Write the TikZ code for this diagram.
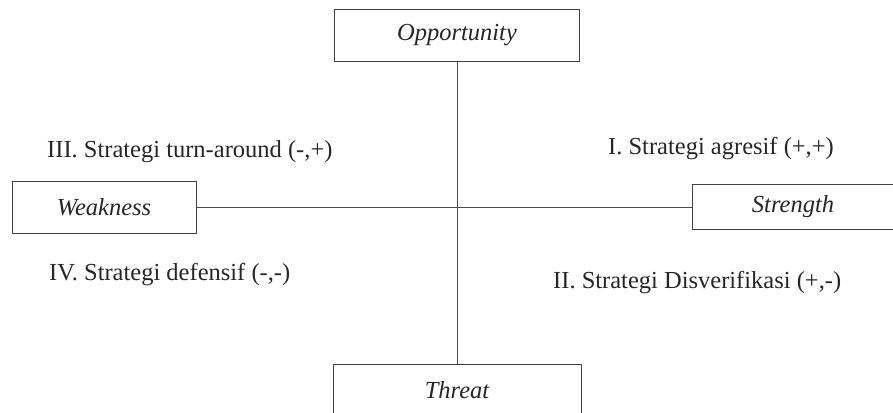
\documentclass[tikz,border=0pt]{standalone}
\usepackage{fontspec}
\setmainfont{Liberation Serif}
\tikzset{>=stealth}
\tikzset{
  swotbox/.style={draw=black!75, line width=1pt, font=\fontsize{24.5}{28}\selectfont\itshape, inner sep=0pt, text=black!85},
  axisline/.style={draw=black!70, line width=1pt},
  quadlabel/.style={anchor=base west, inner sep=0pt, text=black!85},
}

\begin{document}
\begin{tikzpicture}[x=1pt, y=-1pt, font=\fontsize{24.5}{28}\selectfont]
\useasboundingbox (0,0) rectangle (893,412);
\node[swotbox, minimum width=245pt, minimum height=51pt] (opp) at (457,35.5) {Opportunity};
\node[swotbox, minimum width=184pt, minimum height=52pt] (weak) at (104,207) {Weakness};
\node[swotbox, minimum width=202pt, minimum height=45pt] (str) at (793,207) {Strength};
\node[swotbox, minimum width=248pt, minimum height=52pt] (thr) at (457,390) {Threat};
\draw[axisline] (opp.south) -- (thr.north);
\draw[axisline] (weak.east) -- (str.west);
% kuadran
\node[quadlabel] (q3) at (47,157) {III. Strategi turn-around (-,+)};
\node[quadlabel] (q1) at (608,154) {I. Strategi agresif (+,+)};
\node[quadlabel] (q4) at (49,280) {IV. Strategi defensif (-,-)};
\node[quadlabel] (q2) at (553,288) {II. Strategi Disverifikasi (+,-)};
\end{tikzpicture}
\end{document}
